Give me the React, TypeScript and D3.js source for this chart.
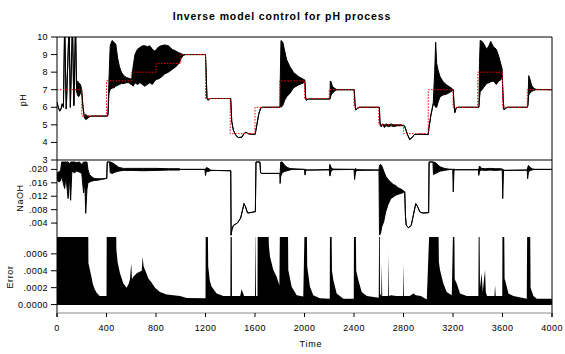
import * as d3 from "d3"

type Row = [number, number, number]

// setpoint schedule (red dotted step line)
const SETPOINT_TIMES = [0, 200, 400, 600, 800, 1000, 1200, 1400, 1600, 1800, 2000, 2200, 2400, 2600, 2800, 3000, 3200, 3400, 3600, 3800, 4000]
const SETPOINTS = [7, 5.5, 7.5, 8, 8.5, 9, 6.5, 4.5, 6, 7.5, 6.5, 7, 6, 5, 4.5, 7, 6, 8, 6, 7, 7]

// pH response: [time, low, high] — low/high spread where it oscillates densely
const PH_TRACE: Row[] = [
  [0, 6.3, 6.3], [10, 6.0, 6.0], [22, 5.78, 5.78], [32, 5.9, 5.9], [42, 6.2, 6.2], [52, 6.0, 6.0],
  [62, 10.8, 10.8], [75, 5.9, 5.9], [98, 10.8, 10.8], [108, 6.0, 6.0], [125, 10.8, 10.8], [136, 6.1, 6.1],
  [150, 10.8, 10.8], [158, 6.9, 6.9], [165, 6.7, 7.5], [175, 6.6, 7.4], [190, 6.8, 7.3], [200, 6.8, 7.0],
  [210, 6.0, 6.0], [222, 5.4, 5.4], [232, 5.3, 5.6], [245, 5.35, 5.5], [260, 5.45, 5.5], [280, 5.5, 5.5], [408, 5.5, 5.5],
  [412, 5.6, 5.6], [420, 6.8, 7.6], [430, 7.0, 9.5], [445, 7.1, 9.8], [460, 7.1, 9.7], [475, 7.2, 9.6], [490, 7.25, 8.8],
  [505, 7.3, 8.3], [520, 7.35, 8.0], [540, 7.35, 7.8], [560, 7.4, 7.7], [580, 7.4, 7.65], [598, 7.3, 7.6],
  [605, 7.3, 7.7], [615, 7.2, 8.3], [630, 7.4, 9.0], [650, 7.3, 9.3], [670, 7.4, 9.4], [690, 7.3, 9.5], [710, 7.2, 9.5],
  [730, 7.3, 9.45], [750, 7.4, 9.5], [770, 7.3, 9.3], [790, 7.5, 9.2], [805, 7.6, 9.3],
  [815, 7.6, 9.4], [840, 7.7, 9.5], [870, 7.9, 9.55], [900, 8.0, 9.5], [930, 8.15, 9.3], [960, 8.3, 9.2],
  [985, 8.5, 9.1], [1005, 8.8, 9.05], [1020, 8.95, 9.0], [1040, 9.0, 9.0], [1200, 9.0, 9.0],
  [1205, 8.0, 8.0], [1212, 6.5, 6.5], [1222, 6.4, 6.4], [1235, 6.5, 6.5], [1403, 6.5, 6.5],
  [1405, 6.3, 6.3], [1412, 5.2, 5.2], [1425, 4.7, 4.7], [1445, 4.4, 4.4], [1465, 4.28, 4.28], [1495, 4.3, 4.3],
  [1510, 4.5, 4.5], [1527, 4.58, 4.58], [1545, 4.5, 4.5], [1565, 4.47, 4.47], [1600, 4.45, 4.45],
  [1605, 4.6, 4.6], [1615, 5.0, 5.0], [1630, 5.6, 5.6], [1645, 5.95, 5.95], [1660, 6.0, 6.0], [1802, 6.0, 6.0],
  [1804, 6.1, 7.5], [1810, 6.0, 9.8], [1825, 6.1, 9.7], [1840, 6.4, 9.2], [1856, 6.6, 8.7], [1883, 6.8, 8.3],
  [1910, 7.1, 8.0], [1950, 7.27, 7.75], [1990, 7.38, 7.6], [2003, 7.45, 7.55],
  [2010, 6.5, 6.5], [2016, 6.4, 6.4], [2030, 6.47, 6.47], [2206, 6.47, 6.47],
  [2208, 6.5, 7.5], [2215, 6.7, 7.45], [2225, 6.8, 7.2], [2240, 6.9, 7.1], [2255, 6.97, 7.03], [2270, 7.0, 7.0], [2402, 7.0, 7.0],
  [2408, 6.2, 6.2], [2415, 5.85, 5.85], [2430, 5.95, 5.95], [2445, 6.0, 6.0], [2605, 6.0, 6.0],
  [2610, 5.1, 5.1], [2620, 4.9, 4.9], [2630, 5.05, 5.05], [2645, 4.85, 5.0], [2660, 4.95, 5.05], [2680, 4.9, 5.0],
  [2700, 4.95, 5.05], [2720, 4.9, 5.0], [2750, 4.95, 5.0], [2780, 4.95, 5.0], [2808, 4.95, 4.95],
  [2820, 4.7, 4.7], [2835, 4.4, 4.4], [2850, 4.17, 4.17], [2866, 4.25, 4.25], [2888, 4.45, 4.45], [2940, 4.47, 4.47], [3000, 4.45, 4.45],
  [3005, 4.8, 4.8], [3020, 5.5, 5.5], [3040, 6.2, 6.2], [3052, 6.1, 8.0], [3060, 6.0, 9.7], [3068, 6.0, 8.5], [3080, 6.3, 8.1],
  [3095, 6.6, 7.75], [3120, 6.7, 7.45], [3149, 6.75, 7.27], [3175, 6.85, 7.15], [3195, 6.95, 7.05], [3202, 7.0, 7.0],
  [3208, 6.2, 6.2], [3215, 5.7, 5.7], [3225, 5.95, 5.95], [3240, 6.0, 6.0], [3408, 6.0, 6.0],
  [3410, 6.1, 6.1], [3414, 6.5, 8.5], [3420, 6.9, 9.8], [3435, 7.0, 9.75], [3450, 7.15, 9.6], [3472, 7.35, 9.3],
  [3490, 7.4, 9.5], [3505, 7.45, 9.75], [3526, 7.5, 9.45], [3550, 7.3, 9.3], [3570, 7.5, 8.9], [3585, 7.55, 8.5], [3597, 7.8, 8.2],
  [3605, 6.5, 6.5], [3612, 5.85, 5.85], [3625, 5.95, 5.95], [3640, 6.0, 6.0], [3800, 6.0, 6.0],
  [3805, 6.1, 6.1], [3812, 6.7, 7.8], [3822, 6.8, 7.6], [3835, 6.9, 7.25], [3850, 6.95, 7.1], [3870, 7.0, 7.02], [4000, 7.0, 7.0],
]

// NaOH control signal: [time, low, high]
const NAOH_TRACE: Row[] = [
  [0, 0.0172, 0.0182], [8, 0.0165, 0.0192], [20, 0.0163, 0.0192], [30, 0.0168, 0.02], [38, 0.018, 0.0222],
  [50, 0.016, 0.0222], [62, 0.0143, 0.0222], [72, 0.018, 0.0222], [90, 0.0113, 0.0222], [100, 0.018, 0.0215],
  [110, 0.0108, 0.0222], [120, 0.0195, 0.0222], [140, 0.019, 0.0222], [160, 0.0195, 0.022], [180, 0.0192, 0.0222],
  [200, 0.0188, 0.0215], [215, 0.013, 0.0222], [225, 0.016, 0.0222], [232, 0.0069, 0.0222], [242, 0.014, 0.0222],
  [250, 0.016, 0.02], [262, 0.0162, 0.0185], [280, 0.0165, 0.0178], [300, 0.0167, 0.0173], [330, 0.0168, 0.0172],
  [360, 0.017, 0.0172], [398, 0.0173, 0.0173],
  [402, 0.0173, 0.0173], [406, 0.0222, 0.0222], [425, 0.0222, 0.0222], [430, 0.019, 0.0222], [445, 0.0188, 0.022],
  [470, 0.0192, 0.0214], [500, 0.0195, 0.0206], [536, 0.0197, 0.0203], [600, 0.0197, 0.0203], [700, 0.0196, 0.0203],
  [800, 0.0197, 0.0203], [900, 0.0198, 0.0202], [990, 0.0198, 0.0202], [1000, 0.02, 0.02], [1195, 0.02, 0.02],
  [1200, 0.0182, 0.02], [1206, 0.0194, 0.0205], [1220, 0.0194, 0.0204], [1240, 0.0196, 0.0198], [1260, 0.0197, 0.0197], [1400, 0.0196, 0.0196],
  [1404, 0.0196, 0.0196], [1407, 0.0004, 0.0004], [1413, 0.002, 0.002], [1425, 0.0033, 0.0033], [1457, 0.004, 0.004],
  [1484, 0.0055, 0.0055], [1500, 0.008, 0.008], [1511, 0.0098, 0.0098], [1522, 0.009, 0.009], [1540, 0.007, 0.007],
  [1560, 0.0071, 0.0071], [1600, 0.0074, 0.0074],
  [1603, 0.0074, 0.0074], [1608, 0.0222, 0.0222], [1640, 0.0222, 0.0222], [1645, 0.019, 0.019], [1655, 0.0188, 0.0188], [1800, 0.0188, 0.0188],
  [1803, 0.0158, 0.0188], [1808, 0.018, 0.0222], [1820, 0.019, 0.0222], [1840, 0.0194, 0.0212], [1860, 0.0196, 0.0206],
  [1880, 0.0198, 0.0203], [1900, 0.02, 0.0202], [2000, 0.02, 0.02],
  [2004, 0.0183, 0.02], [2010, 0.0197, 0.02], [2020, 0.0198, 0.0198], [2200, 0.0199, 0.0199],
  [2205, 0.018, 0.0215], [2215, 0.0195, 0.0205], [2230, 0.0199, 0.0201], [2400, 0.02, 0.02],
  [2405, 0.017, 0.02], [2412, 0.0192, 0.0203], [2425, 0.0197, 0.0199], [2600, 0.0198, 0.0198],
  [2602, 0.0198, 0.0198], [2606, 0.0004, 0.0212], [2615, 0.001, 0.0215], [2625, 0.003, 0.021], [2640, 0.0044, 0.0195],
  [2656, 0.0074, 0.018], [2675, 0.0095, 0.017], [2697, 0.0113, 0.0162], [2717, 0.0118, 0.0155], [2737, 0.0123, 0.0152],
  [2757, 0.0126, 0.0145], [2777, 0.0128, 0.0142], [2800, 0.0131, 0.0136], [2810, 0.0133, 0.0133],
  [2816, 0.006, 0.006], [2822, 0.0034, 0.0034], [2840, 0.0026, 0.0026], [2862, 0.0033, 0.0033], [2880, 0.0064, 0.0064],
  [2899, 0.0098, 0.0098], [2912, 0.009, 0.009], [2934, 0.0072, 0.0072], [2960, 0.007, 0.007], [3000, 0.0071, 0.0071],
  [3003, 0.0071, 0.0071], [3007, 0.0222, 0.0222], [3038, 0.0222, 0.0222], [3042, 0.0185, 0.0222], [3060, 0.0188, 0.022],
  [3080, 0.0192, 0.0212], [3100, 0.0195, 0.0207], [3130, 0.0197, 0.0203], [3160, 0.0199, 0.0201], [3198, 0.02, 0.02],
  [3202, 0.0133, 0.02], [3208, 0.0197, 0.0201], [3220, 0.0199, 0.0199], [3405, 0.0199, 0.0199],
  [3408, 0.0182, 0.0202], [3415, 0.0195, 0.021], [3430, 0.0198, 0.0203], [3460, 0.0197, 0.0202], [3500, 0.0198, 0.0203],
  [3540, 0.0197, 0.0202], [3580, 0.0198, 0.0202], [3598, 0.0198, 0.0201],
  [3602, 0.0113, 0.02], [3608, 0.0196, 0.0199], [3620, 0.0197, 0.0197], [3800, 0.0198, 0.0198],
  [3803, 0.0172, 0.0205], [3810, 0.0193, 0.0212], [3825, 0.0197, 0.0205], [3845, 0.0199, 0.0201], [3870, 0.02, 0.02], [4000, 0.02, 0.02],
]

// tracking error: [time, error]; values above the frame are clipped
const ERROR_TRACE: [number, number][] = [
  [0, 0.001], [252, 0.001], [254, 0.00049], [262, 0.00044], [278, 0.00033], [290, 0.00024], [305, 0.00018],
  [320, 0.00014], [345, 0.0001], [400, 0.0001], [402, 0.001], [477, 0.001],
  [480, 0.00065], [490, 0.0005], [509, 0.00037], [536, 0.00025], [563, 0.0002], [580, 0.00025], [590, 0.0003],
  [600, 0.00049], [606, 0.0003], [617, 0.00033], [644, 0.00037], [671, 0.00039], [685, 0.0004], [692, 0.00057],
  [700, 0.00045], [720, 0.00038], [738, 0.00031], [760, 0.00027], [792, 0.0002], [832, 0.00015], [886, 0.00012],
  [940, 0.00011], [994, 0.0001], [1048, 0.000078], [1200, 0.000075],
  [1202, 0.001], [1218, 0.001], [1222, 0.00045], [1235, 0.00028], [1250, 0.00021], [1290, 0.00013], [1344, 0.0001], [1401, 0.0001],
  [1403, 0.001], [1412, 0.001], [1414, 0.0001], [1480, 0.0001], [1492, 0.00018], [1502, 0.00014], [1512, 0.0001], [1600, 0.0001],
  [1606, 0.001], [1608, 0.0001], [1620, 0.0001], [1622, 0.001], [1708, 0.001], [1712, 0.0007], [1721, 0.00057],
  [1748, 0.00041], [1775, 0.00033], [1797, 0.00023],
  [1802, 0.001], [1866, 0.001], [1869, 0.00041], [1896, 0.00021], [1937, 0.00011], [1990, 0.000095],
  [2002, 0.001], [2018, 0.001], [2022, 0.00045], [2044, 0.00021], [2071, 0.00011], [2125, 0.000075], [2204, 0.00007],
  [2206, 0.001], [2218, 0.001], [2222, 0.0004], [2233, 0.00029], [2260, 0.00013], [2314, 0.00007], [2398, 0.00007],
  [2400, 0.001], [2414, 0.001], [2418, 0.0004], [2435, 0.00029], [2462, 0.00015], [2503, 0.0001], [2600, 0.00008],
  [2603, 0.001], [2608, 0.001], [2610, 0.00013], [2620, 0.0001], [2624, 0.00049], [2628, 0.0001], [2675, 0.0001],
  [2678, 0.00061], [2682, 0.0001], [2700, 0.00011], [2740, 0.0001], [2797, 0.0001], [2800, 0.00049], [2804, 0.0001],
  [2850, 0.0001], [2880, 0.00013], [2900, 0.00011], [2940, 0.0001], [2988, 0.00006],
  [3012, 0.001], [3082, 0.001], [3086, 0.0005], [3095, 0.00041], [3122, 0.00025], [3149, 0.00015], [3190, 0.00011],
  [3202, 0.001], [3210, 0.001], [3214, 0.0003], [3230, 0.00025], [3257, 0.00013], [3311, 0.0001], [3405, 0.0001],
  [3408, 0.001], [3414, 0.001], [3418, 0.0002], [3432, 0.00037], [3440, 0.00015], [3459, 0.00041], [3465, 0.00015],
  [3475, 0.0001], [3535, 0.0001], [3540, 0.00023], [3545, 0.0001], [3598, 0.0001],
  [3600, 0.001], [3613, 0.001], [3617, 0.0003], [3621, 0.00029], [3648, 0.00013], [3688, 0.0001], [3796, 0.00007],
  [3800, 0.001], [3823, 0.001], [3827, 0.0002], [3850, 0.0001], [3877, 0.00007], [4000, 0.00007],
]

const TIME_TICKS = [0, 400, 800, 1200, 1600, 2000, 2400, 2800, 3200, 3600, 4000]
const PH_TICKS = [3, 4, 5, 6, 7, 8, 9, 10]
const NAOH_TICKS = [0.004, 0.008, 0.012, 0.016, 0.02]
const ERROR_TICKS = [0, 0.0002, 0.0004, 0.0006]

const FONT = "'Liberation Sans', Arial, sans-serif"
const X0 = 57
const X1 = 552
const PH_TOP = 37
const PH_BOT = 160
const NA_BOT = 236.5
const ER_TOP = 237
const ER_BOT = 313

const x = d3.scaleLinear().domain([0, 4000]).range([X0, X1])
const yPh = d3.scaleLinear().domain([3, 10]).range([PH_BOT, PH_TOP])
const yNa = d3.scaleLinear().domain([0, 0.0228]).range([NA_BOT, PH_BOT])
const yEr = d3.scaleLinear().domain([-0.0001, 0.0008]).range([ER_BOT, ER_TOP])

function Band({ data, y, clip }: { data: Row[]; y: d3.ScaleLinear<number, number>; clip: string }) {
  const area = d3.area<Row>().x((d) => x(d[0])).y0((d) => y(d[1])).y1((d) => y(d[2]))
  const lo = d3.line<Row>().x((d) => x(d[0])).y((d) => y(d[1]))
  const hi = d3.line<Row>().x((d) => x(d[0])).y((d) => y(d[2]))
  return (
    <g clipPath={`url(#${clip})`}>
      <path d={area(data) ?? undefined} fill="#000" />
      <path d={lo(data) ?? undefined} fill="none" stroke="#000" strokeWidth={1} />
      <path d={hi(data) ?? undefined} fill="none" stroke="#000" strokeWidth={1} />
    </g>
  )
}

function LeftAxis({ ticks, y, fmt }: { ticks: number[]; y: d3.ScaleLinear<number, number>; fmt: (v: number) => string }) {
  return (
    <g>
      {ticks.map((t) => (
        <g key={t} transform={`translate(0,${y(t)})`}>
          <line x1={X0 - 6} x2={X0} stroke="#000" />
          <text x={X0 - 9} dy="0.33em" textAnchor="end" fontSize={9} letterSpacing={0.4} fill="#000">
            {fmt(t)}
          </text>
        </g>
      ))}
    </g>
  )
}

export default function App() {
  const setData: [number, number][] = SETPOINT_TIMES.map((t, i) => [t, SETPOINTS[i]])
  const step = d3
    .line<[number, number]>()
    .x((d) => x(d[0]))
    .y((d) => yPh(d[1]))
    .curve(d3.curveStepAfter)
  const errArea = d3
    .area<[number, number]>()
    .x((d) => x(d[0]))
    .y0(yEr(-0.000005))
    .y1((d) => yEr(d[1]))

  const noLead = (v: number) => v.toFixed(3).replace(/^0/, "")
  const errFmt = (v: number) => (v === 0 ? "0.0000" : v.toFixed(4).replace(/^0/, ""))

  return (
    <svg
      width={565}
      height={354}
      style={{ position: "absolute", left: 0, top: 0, background: "#fff", fontFamily: FONT }}
    >
      <defs>
        <clipPath id="c-ph">
          <rect x={X0} y={PH_TOP} width={X1 - X0} height={PH_BOT - PH_TOP} />
        </clipPath>
        <clipPath id="c-na">
          <rect x={X0} y={PH_BOT} width={X1 - X0} height={NA_BOT - PH_BOT} />
        </clipPath>
        <clipPath id="c-er">
          <rect x={X0} y={ER_TOP} width={X1 - X0} height={ER_BOT - ER_TOP} />
        </clipPath>
      </defs>

      <text x={282} y={19.5} textAnchor="middle" fontSize={10.5} fontWeight={700} letterSpacing={0.9}>
        Inverse model control for pH process
      </text>

      {/* pH panel */}
      <Band data={PH_TRACE} y={yPh} clip="c-ph" />
      <path
        d={step(setData) ?? undefined}
        fill="none"
        stroke="#ff0000"
        strokeWidth={1}
        strokeDasharray="1.5 1.5"
        clipPath="url(#c-ph)"
      />

      {/* NaOH panel */}
      <Band data={NAOH_TRACE} y={yNa} clip="c-na" />

      {/* Error panel */}
      <g clipPath="url(#c-er)">
        <path d={errArea(ERROR_TRACE) ?? undefined} fill="#000" />
      </g>

      {/* frame */}
      <line x1={X0} x2={X1} y1={PH_TOP} y2={PH_TOP} stroke="#000" />
      <line x1={X0} x2={X1} y1={PH_BOT} y2={PH_BOT} stroke="#000" />
      <line x1={X1} x2={X1} y1={PH_TOP} y2={ER_BOT + 4} stroke="#000" />
      <line x1={X0} x2={X0} y1={PH_TOP} y2={ER_BOT + 4} stroke="#000" />
      <line x1={X0} x2={X1} y1={ER_BOT} y2={ER_BOT} stroke="#888" />

      <LeftAxis ticks={PH_TICKS} y={yPh} fmt={(v) => String(v)} />
      <LeftAxis ticks={NAOH_TICKS} y={yNa} fmt={noLead} />
      <LeftAxis ticks={ERROR_TICKS} y={yEr} fmt={errFmt} />

      {TIME_TICKS.map((t) => (
        <g key={t} transform={`translate(${x(t)},${ER_BOT})`}>
          <line y1={0} y2={4} stroke="#000" />
          <text y={18} textAnchor="middle" fontSize={9} letterSpacing={0.4}>
            {t}
          </text>
        </g>
      ))}

      <text x={311} y={347} textAnchor="middle" fontSize={9} letterSpacing={0.8}>
        Time
      </text>
      <text transform="translate(26,100) rotate(-90)" textAnchor="middle" fontSize={9} letterSpacing={0.6}>
        pH
      </text>
      <text transform="translate(23,198) rotate(-90)" textAnchor="middle" fontSize={9} letterSpacing={0.6}>
        NaOH
      </text>
      <text transform="translate(13,277) rotate(-90)" textAnchor="middle" fontSize={9} letterSpacing={0.6}>
        Error
      </text>
    </svg>
  )
}
